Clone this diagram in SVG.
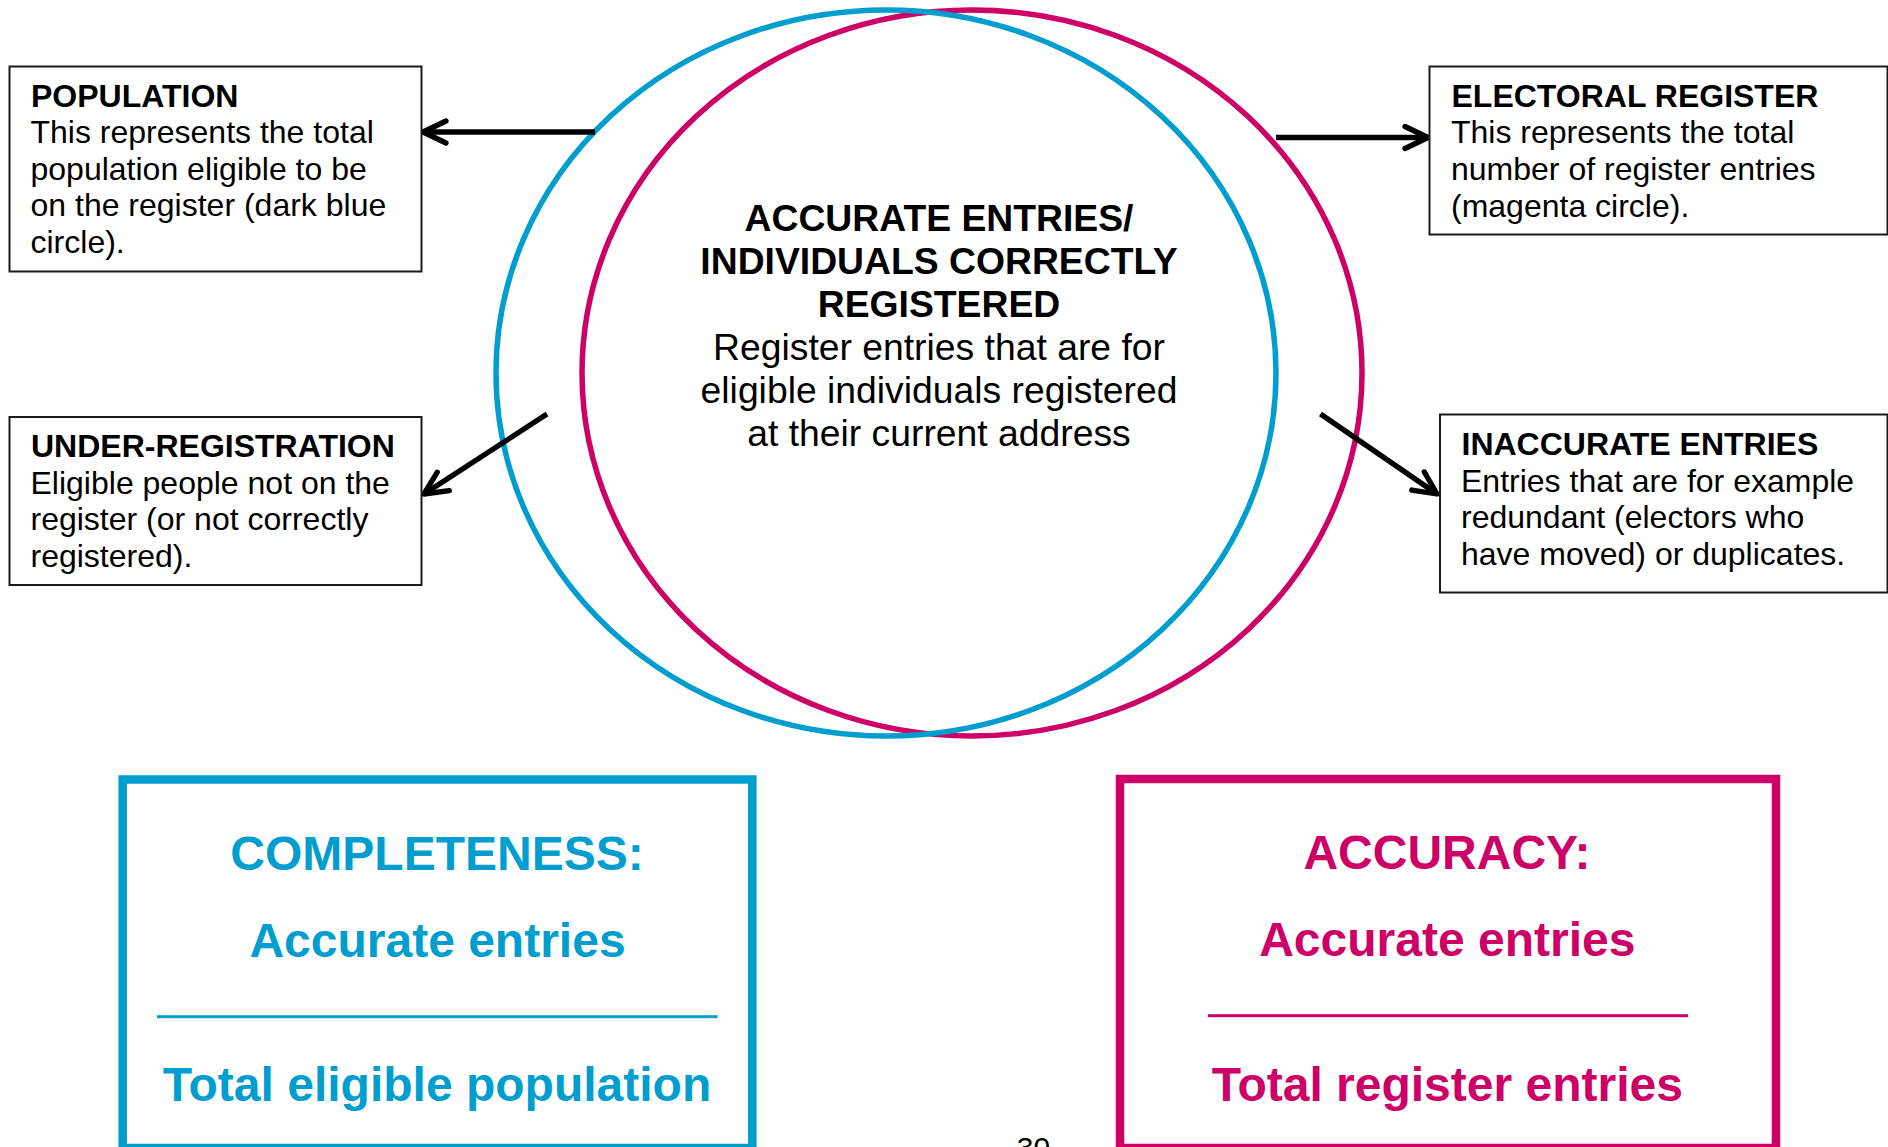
<svg xmlns="http://www.w3.org/2000/svg" width="1888" height="1147" viewBox="0 0 1888 1147">
<style>
  .box { fill: #fff; stroke: #1a1a1a; stroke-width: 2; }
  .t { font-family: "Liberation Sans", Arial, sans-serif; font-size: 32px; fill: #000; }
  .b { font-weight: bold; }
  .c { font-family: "Liberation Sans", Arial, sans-serif; font-size: 37.3px; fill: #000; text-anchor: middle; }
  .big { font-family: "Liberation Sans", Arial, sans-serif; font-size: 48px; font-weight: bold; text-anchor: middle; }
  .blue { fill: #009ECE; }
  .mag { fill: #CC0066; }
  .conn { stroke: #000; stroke-width: 5.3; fill: none; marker-end: url(#arr); }
</style>
<defs>
  <marker id="arr" markerUnits="userSpaceOnUse" markerWidth="40" markerHeight="40" viewBox="-30 -20 40 40" refX="0" refY="0" orient="auto">
    <path d="M-23,-11 L0,0 L-23,11" fill="none" stroke="#000" stroke-width="5.3" stroke-linecap="round" stroke-linejoin="round"/>
  </marker>
</defs>
<rect width="1888" height="1147" fill="#fff"/>

<g id="electoral-register-circle">
  <ellipse cx="972" cy="373" rx="390" ry="363" fill="none" stroke="#CC0066" stroke-width="5.5"/>
</g>
<g id="population-circle">
  <ellipse cx="886" cy="373" rx="390" ry="363" fill="none" stroke="#009ECE" stroke-width="5.5"/>
</g>

<g id="accurate-entries">
  <text class="c b" x="939" y="231">ACCURATE ENTRIES/</text>
  <text class="c b" x="939" y="274">INDIVIDUALS CORRECTLY</text>
  <text class="c b" x="939" y="317">REGISTERED</text>
  <text class="c" x="939" y="360">Register entries that are for</text>
  <text class="c" x="939" y="403">eligible individuals registered</text>
  <text class="c" x="939" y="446">at their current address</text>
</g>

<g id="connectors">
  <path class="conn" d="M595,132 L423,132"/>
  <path class="conn" d="M547,414 L424,494"/>
  <path class="conn" d="M1276,137.5 L1428,137.5"/>
  <path class="conn" d="M1320.5,414 L1437,494"/>
</g>

<g id="population">
  <rect class="box" x="9.5" y="66.5" width="412" height="205"/>
  <text class="t b" x="31" y="106.5">POPULATION</text>
  <text class="t" x="30.5" y="143">This represents the total</text>
  <text class="t" x="30.5" y="179.5">population eligible to be</text>
  <text class="t" x="30.5" y="216">on the register (dark blue</text>
  <text class="t" x="30.5" y="252.5">circle).</text>
</g>

<g id="under-registration">
  <rect class="box" x="9.5" y="417" width="412" height="168"/>
  <text class="t b" x="31" y="457.3">UNDER-REGISTRATION</text>
  <text class="t" x="30.5" y="493.5">Eligible people not on the</text>
  <text class="t" x="30.5" y="530">register (or not correctly</text>
  <text class="t" x="30.5" y="566.5">registered).</text>
</g>

<g id="electoral-register">
  <rect class="box" x="1429.5" y="66.5" width="458" height="168"/>
  <text class="t b" x="1451.5" y="107">ELECTORAL REGISTER</text>
  <text class="t" x="1451" y="143.3">This represents the total</text>
  <text class="t" x="1451" y="180">number of register entries</text>
  <text class="t" x="1451" y="216.7">(magenta circle).</text>
</g>

<g id="inaccurate-entries">
  <rect class="box" x="1440" y="414.5" width="447.5" height="178"/>
  <text class="t b" x="1461.5" y="455">INACCURATE ENTRIES</text>
  <text class="t" x="1461" y="491.7">Entries that are for example</text>
  <text class="t" x="1461" y="528.3">redundant (electors who</text>
  <text class="t" x="1461" y="565">have moved) or duplicates.</text>
</g>

<g id="completeness">
  <rect x="122.7" y="779.5" width="629.6" height="368.5" fill="none" stroke="#009ECE" stroke-width="8.5"/>
  <text class="big blue" x="437" y="870">COMPLETENESS:</text>
  <text class="big blue" x="437.5" y="956.7">Accurate entries</text>
  <rect x="157" y="1015.2" width="560.5" height="3" class="blue"/>
  <text class="big blue" x="437" y="1100.7">Total eligible population</text>
</g>

<g id="accuracy">
  <rect x="1120" y="779" width="656" height="369" fill="none" stroke="#CC0066" stroke-width="8.5"/>
  <text class="big mag" x="1447" y="869.3">ACCURACY:</text>
  <text class="big mag" x="1447.3" y="956">Accurate entries</text>
  <rect x="1208" y="1014.2" width="480" height="3" class="mag"/>
  <text class="big mag" x="1447.3" y="1100.7">Total register entries</text>
</g>

<g id="page-number">
  <text class="t" x="1033.5" y="1157.5" text-anchor="middle" style="font-size:30px">30</text>
</g>
</svg>
